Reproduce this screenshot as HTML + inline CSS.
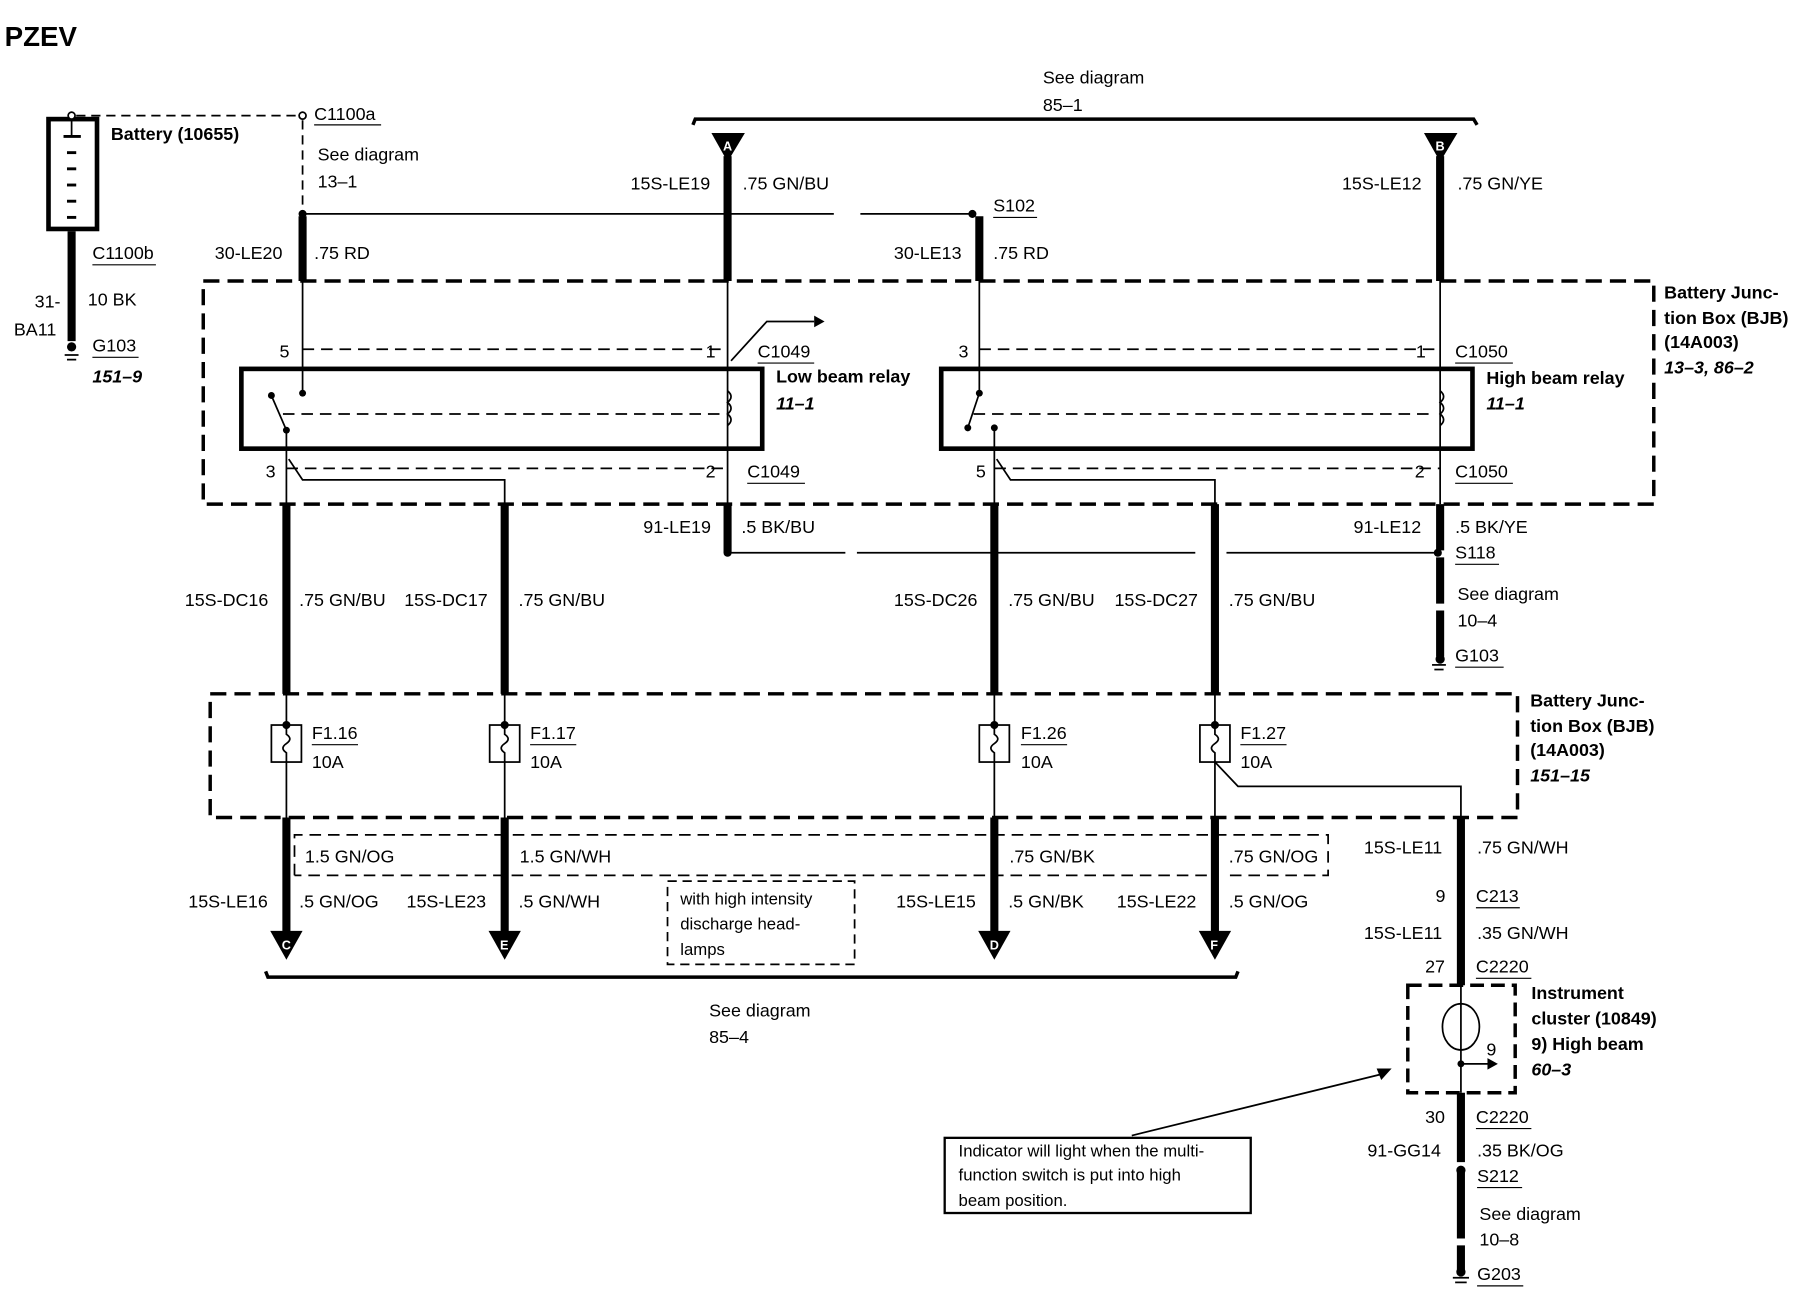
<!DOCTYPE html>
<html><head><meta charset="utf-8"><style>
html,body{margin:0;padding:0;background:#fff}
svg{display:block}
text{font-family:"Liberation Sans",sans-serif;font-size:15.5px;fill:#000}
.b{font-weight:bold}
.bi{font-weight:bold;font-style:italic}
</style></head><body>
<svg width="1812" height="1312" viewBox="0 0 1569 1134.6" preserveAspectRatio="none" xmlns="http://www.w3.org/2000/svg">
<g stroke="#000" fill="none">
<rect x="42" y="103" width="42" height="95" stroke-width="4"/>
<g stroke-width="2.5"><line x1="55" y1="118" x2="70" y2="118"/><line x1="58" y1="132" x2="66" y2="132"/><line x1="58" y1="146" x2="66" y2="146"/><line x1="58" y1="160" x2="66" y2="160"/><line x1="58" y1="174" x2="66" y2="174"/><line x1="58" y1="188" x2="66" y2="188"/></g>
<line x1="62" y1="100" x2="62" y2="118" stroke-width="1.5"/>
<line x1="66" y1="100" x2="262" y2="100" stroke-width="1.5" stroke-dasharray="8,5"/>
<circle cx="62" cy="100" r="3" fill="#fff" stroke-width="1.5"/>
<circle cx="262" cy="100" r="3" fill="#fff" stroke-width="1.5"/>
<line x1="262" y1="104" x2="262" y2="185" stroke-width="1.5" stroke-dasharray="8,5"/>
<line x1="62" y1="200" x2="62" y2="295" stroke-width="7"/>
<line x1="56" y1="307" x2="68" y2="307" stroke-width="1.5"/><line x1="58" y1="311" x2="66" y2="311" stroke-width="1.5"/>
<line x1="262" y1="185" x2="722" y2="185" stroke-width="1.5"/>
<line x1="745" y1="185" x2="842" y2="185" stroke-width="1.5"/>
<path d="M600 108 L602 103 L1276 103 L1279 108" stroke-width="3"/>
<rect x="176" y="243" width="1256" height="193" stroke-width="3" stroke-dasharray="14,7"/>
<line x1="262" y1="187" x2="262" y2="243" stroke-width="7"/>
<line x1="262" y1="243" x2="262" y2="340" stroke-width="1.5"/>
<line x1="630" y1="135" x2="630" y2="243" stroke-width="7"/>
<line x1="630" y1="243" x2="630" y2="436" stroke-width="1.5"/>
<line x1="630" y1="436" x2="630" y2="478" stroke-width="7"/>
<path d="M633 312 L664 278 L705 278" stroke-width="1.5"/>
<rect x="209" y="319" width="451" height="69" stroke-width="4"/>
<line x1="262" y1="302" x2="630" y2="302" stroke-width="1.5" stroke-dasharray="10,6"/>
<line x1="248" y1="405" x2="630" y2="405" stroke-width="1.5" stroke-dasharray="10,6"/>
<line x1="235" y1="342" x2="248" y2="372" stroke-width="1.5"/>
<line x1="248" y1="372" x2="248" y2="600" stroke-width="1.5"/>
<line x1="245" y1="358" x2="626" y2="358" stroke-width="1.5" stroke-dasharray="10,6"/>
<path d="M630 338 q6 5 0 10 q6 5 0 10 q6 5 0 10" stroke-width="1.5"/>
<path d="M250 397 L262 415 L437 415 L437 600" stroke-width="1.5"/>
<line x1="848" y1="187" x2="848" y2="243" stroke-width="7"/>
<line x1="848" y1="243" x2="848" y2="340" stroke-width="1.5"/>
<line x1="1247" y1="135" x2="1247" y2="243" stroke-width="7"/>
<line x1="1247" y1="243" x2="1247" y2="436" stroke-width="1.5"/>
<line x1="1247" y1="436" x2="1247" y2="570" stroke-width="7" stroke-dasharray="40,6"/>
<line x1="1240" y1="575" x2="1252" y2="575" stroke-width="1.5"/><line x1="1242" y1="579" x2="1250" y2="579" stroke-width="1.5"/>
<rect x="815" y="319" width="460" height="69" stroke-width="4"/>
<line x1="848" y1="302" x2="1247" y2="302" stroke-width="1.5" stroke-dasharray="10,6"/>
<line x1="861" y1="405" x2="1247" y2="405" stroke-width="1.5" stroke-dasharray="10,6"/>
<line x1="848" y1="340" x2="838" y2="370" stroke-width="1.5"/>
<line x1="861" y1="370" x2="861" y2="600" stroke-width="1.5"/>
<line x1="843" y1="358" x2="1242" y2="358" stroke-width="1.5" stroke-dasharray="10,6"/>
<path d="M1247 338 q6 5 0 10 q6 5 0 10 q6 5 0 10" stroke-width="1.5"/>
<path d="M863 397 L875 415 L1052 415 L1052 600" stroke-width="1.5"/>
<line x1="630" y1="478" x2="732" y2="478" stroke-width="1.5"/>
<line x1="742" y1="478" x2="1035" y2="478" stroke-width="1.5"/>
<line x1="1062" y1="478" x2="1245" y2="478" stroke-width="1.5"/>
<line x1="248" y1="436" x2="248" y2="600" stroke-width="7"/>
<line x1="437" y1="436" x2="437" y2="600" stroke-width="7"/>
<line x1="861" y1="436" x2="861" y2="600" stroke-width="7"/>
<line x1="1052" y1="436" x2="1052" y2="600" stroke-width="7"/>
<rect x="182" y="600" width="1132" height="107" stroke-width="3" stroke-dasharray="14,7"/>
<g stroke-width="1.5">
<line x1="248" y1="600" x2="248" y2="707"/><line x1="437" y1="600" x2="437" y2="707"/><line x1="861" y1="600" x2="861" y2="707"/><line x1="1052" y1="600" x2="1052" y2="707"/>
<rect x="235" y="627" width="26" height="32" fill="#fff"/><rect x="424" y="627" width="26" height="32" fill="#fff"/><rect x="848" y="627" width="26" height="32" fill="#fff"/><rect x="1039" y="627" width="26" height="32" fill="#fff"/>
<path d="M248 627 v8 q6 4 0 8 q-6 4 0 8 v8"/><path d="M437 627 v8 q6 4 0 8 q-6 4 0 8 v8"/><path d="M861 627 v8 q6 4 0 8 q-6 4 0 8 v8"/><path d="M1052 627 v8 q6 4 0 8 q-6 4 0 8 v8"/>
<path d="M1052 659 L1072 680 L1265 680 L1265 707"/>
</g>
<g stroke-width="7">
<line x1="248" y1="707" x2="248" y2="808"/><line x1="437" y1="707" x2="437" y2="808"/><line x1="861" y1="707" x2="861" y2="808"/><line x1="1052" y1="707" x2="1052" y2="808"/>
</g>
<path d="M255 757 L255 722 L1150 722 L1150 757 L1060 757 M1045 757 L255 757" stroke-width="1.5" stroke-dasharray="10,6"/>
<rect x="578" y="762" width="162" height="72" stroke-width="1.5" stroke-dasharray="8,5"/>
<path d="M230 840 L232 845 L1070 845 L1072 840" stroke-width="3"/>
<line x1="1265" y1="707" x2="1265" y2="852" stroke-width="7"/>
<line x1="1265" y1="852" x2="1265" y2="945" stroke-width="1.5"/>
<line x1="1265" y1="945" x2="1265" y2="1100" stroke-width="7" stroke-dasharray="60,6"/>
<line x1="1258" y1="1105" x2="1272" y2="1105" stroke-width="1.5"/><line x1="1260" y1="1109" x2="1270" y2="1109" stroke-width="1.5"/>
<rect x="1219" y="852" width="93" height="93" stroke-width="3" stroke-dasharray="12,6"/>
<ellipse cx="1265" cy="888" rx="16" ry="20" stroke-width="1.5"/>
<path d="M1265 920 L1290 920" stroke-width="1.5"/>
<rect x="818" y="984" width="265" height="65" stroke-width="2"/>
<line x1="980" y1="982" x2="1200" y2="928" stroke-width="1.5"/>
</g>
<g fill="#000">
<circle cx="262" cy="185" r="3.5"/><circle cx="842" cy="185" r="3.5"/><circle cx="262" cy="340" r="3"/><circle cx="235" cy="342" r="3"/><circle cx="248" cy="372" r="3"/>
<circle cx="630" cy="478" r="3.5"/><circle cx="1245" cy="478" r="3.5"/><circle cx="848" cy="340" r="3"/><circle cx="861" cy="370" r="3"/><circle cx="838" cy="370" r="3"/>
<circle cx="62" cy="300" r="4"/><circle cx="1247" cy="570" r="4"/><circle cx="1265" cy="1100" r="4"/><circle cx="1265" cy="1012" r="4"/><circle cx="1265" cy="920" r="3"/>
<circle cx="248" cy="627" r="3.5"/><circle cx="437" cy="627" r="3.5"/><circle cx="861" cy="627" r="3.5"/><circle cx="1052" cy="627" r="3.5"/>
<polygon points="705,273 714,278 705,283"/><polygon points="1288,915 1297,920 1288,925"/><polygon points="1205,924 1192,924 1196,934"/>
<polygon points="616,115 645,115 630,140"/><polygon points="1233,115 1262,115 1247,140"/>
<polygon points="234,805 262,805 248,830"/><polygon points="423,805 451,805 437,830"/><polygon points="847,805 875,805 861,830"/><polygon points="1038,805 1066,805 1052,830"/>
</g>
<g style="font-weight:bold">
<text x="626" y="130" style="fill:#fff;font-size:11px">A</text><text x="1243" y="130" style="fill:#fff;font-size:11px">B</text>
<text x="244" y="821" style="fill:#fff;font-size:11px">C</text><text x="433" y="821" style="fill:#fff;font-size:11px">E</text><text x="857" y="821" style="fill:#fff;font-size:11px">D</text><text x="1048" y="821" style="fill:#fff;font-size:11px">F</text>
</g>
<text x="4" y="40" class="b" style="font-size:24px">PZEV</text>
<text x="96" y="121" class="b">Battery (10655)</text>
<text x="272" y="104">C1100a</text>
<text x="275" y="139">See diagram</text><text x="275" y="162">13–1</text>
<text x="80" y="224">C1100b</text><text x="76" y="264">10 BK</text><text x="30" y="266">31-</text><text x="12" y="290">BA11</text>
<text x="80" y="304">G103</text><text x="80" y="331" class="bi">151–9</text>
<text x="903" y="72">See diagram</text><text x="903" y="96">85–1</text>
<text x="546" y="164">15S-LE19</text><text x="643" y="164">.75 GN/BU</text>
<text x="1162" y="164">15S-LE12</text><text x="1262" y="164">.75 GN/YE</text>
<text x="860" y="183">S102</text>
<text x="186" y="224">30-LE20</text><text x="272" y="224">.75 RD</text>
<text x="774" y="224">30-LE13</text><text x="860" y="224">.75 RD</text>
<text x="1441" y="258" class="b">Battery Junc-</text><text x="1441" y="280" class="b">tion Box (BJB)</text><text x="1441" y="301" class="b">(14A003)</text><text x="1441" y="323" class="bi">13–3, 86–2</text>
<text x="242" y="309">5</text><text x="611" y="309">1</text><text x="656" y="309">C1049</text>
<text x="830" y="309">3</text><text x="1226" y="309">1</text><text x="1260" y="309">C1050</text>
<text x="672" y="331" class="b">Low beam relay</text><text x="672" y="354" class="bi">11–1</text>
<text x="1287" y="332" class="b">High beam relay</text><text x="1287" y="354" class="bi">11–1</text>
<text x="230" y="413">3</text><text x="611" y="413">2</text><text x="647" y="413">C1049</text>
<text x="845" y="413">5</text><text x="1225" y="413">2</text><text x="1260" y="413">C1050</text>
<text x="557" y="461">91-LE19</text><text x="642" y="461">.5 BK/BU</text>
<text x="1172" y="461">91-LE12</text><text x="1260" y="461">.5 BK/YE</text>
<text x="1260" y="483">S118</text><text x="1262" y="519">See diagram</text><text x="1262" y="542">10–4</text><text x="1260" y="572">G103</text>
<text x="160" y="524">15S-DC16</text><text x="259" y="524">.75 GN/BU</text><text x="350" y="524">15S-DC17</text><text x="449" y="524">.75 GN/BU</text>
<text x="774" y="524">15S-DC26</text><text x="873" y="524">.75 GN/BU</text><text x="965" y="524">15S-DC27</text><text x="1064" y="524">.75 GN/BU</text>
<text x="1325" y="611" class="b">Battery Junc-</text><text x="1325" y="633" class="b">tion Box (BJB)</text><text x="1325" y="654" class="b">(14A003)</text><text x="1325" y="676" class="bi">151–15</text>
<text x="270" y="639">F1.16</text><text x="270" y="664">10A</text><text x="459" y="639">F1.17</text><text x="459" y="664">10A</text>
<text x="884" y="639">F1.26</text><text x="884" y="664">10A</text><text x="1074" y="639">F1.27</text><text x="1074" y="664">10A</text>
<text x="264" y="746">1.5 GN/OG</text><text x="450" y="746">1.5 GN/WH</text><text x="874" y="746">.75 GN/BK</text><text x="1064" y="746">.75 GN/OG</text>
<text x="163" y="785">15S-LE16</text><text x="259" y="785">.5 GN/OG</text><text x="352" y="785">15S-LE23</text><text x="449" y="785">.5 GN/WH</text>
<text x="776" y="785">15S-LE15</text><text x="873" y="785">.5 GN/BK</text><text x="967" y="785">15S-LE22</text><text x="1064" y="785">.5 GN/OG</text>
<text x="589" y="782" style="font-size:14.5px">with high intensity</text><text x="589" y="804" style="font-size:14.5px">discharge head-</text><text x="589" y="826" style="font-size:14.5px">lamps</text>
<text x="614" y="879">See diagram</text><text x="614" y="902">85–4</text>
<text x="1181" y="738">15S-LE11</text><text x="1279" y="738">.75 GN/WH</text>
<text x="1243" y="780">9</text><text x="1278" y="780">C213</text>
<text x="1181" y="812">15S-LE11</text><text x="1279" y="812">.35 GN/WH</text>
<text x="1234" y="841">27</text><text x="1278" y="841">C2220</text>
<text x="1326" y="864" class="b">Instrument</text><text x="1326" y="886" class="b">cluster (10849)</text><text x="1326" y="908" class="b">9)  High beam</text><text x="1326" y="930" class="bi">60–3</text>
<text x="1287" y="913">9</text>
<text x="1234" y="971">30</text><text x="1278" y="971">C2220</text>
<text x="1184" y="1000">91-GG14</text><text x="1279" y="1000">.35 BK/OG</text>
<text x="1279" y="1022">S212</text><text x="1281" y="1055">See diagram</text><text x="1281" y="1077">10–8</text><text x="1279" y="1107">G203</text>
<text x="830" y="1000" style="font-size:14.5px">Indicator will light when the multi-</text><text x="830" y="1021" style="font-size:14.5px">function switch is put into high</text><text x="830" y="1043" style="font-size:14.5px">beam position.</text>
<g stroke="#000" stroke-width="1">
<line x1="272" y1="108" x2="330" y2="108"/><line x1="80" y1="229" x2="135" y2="229"/><line x1="80" y1="309" x2="120" y2="309"/>
<line x1="860" y1="188" x2="898" y2="188"/><line x1="656" y1="314" x2="705" y2="314"/><line x1="1260" y1="314" x2="1310" y2="314"/>
<line x1="647" y1="418" x2="697" y2="418"/><line x1="1260" y1="418" x2="1310" y2="418"/><line x1="1260" y1="488" x2="1298" y2="488"/><line x1="1260" y1="577" x2="1302" y2="577"/>
<line x1="270" y1="644" x2="310" y2="644"/><line x1="459" y1="644" x2="499" y2="644"/><line x1="884" y1="644" x2="924" y2="644"/><line x1="1074" y1="644" x2="1114" y2="644"/>
<line x1="1278" y1="785" x2="1316" y2="785"/><line x1="1278" y1="846" x2="1326" y2="846"/><line x1="1278" y1="976" x2="1326" y2="976"/><line x1="1279" y1="1027" x2="1318" y2="1027"/><line x1="1279" y1="1112" x2="1319" y2="1112"/>
</g>
</svg>
</body></html>
